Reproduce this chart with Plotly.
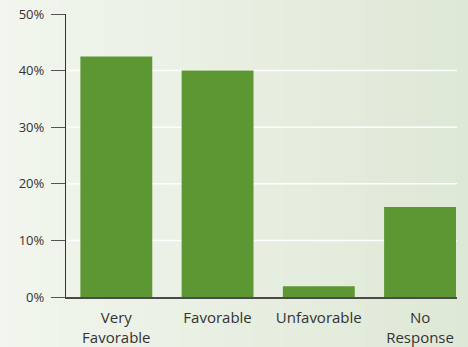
import plotly.graph_objects as go

# Survey responses (percent of respondents)
categories = ["Very<br>Favorable", "Favorable", "Unfavorable", "No<br>Response"]
shares = [42.5, 40.0, 1.9, 15.9]
y_ticks = [0, 10, 20, 30, 40, 50]
y_tick_text = ["0%", "10%", "20%", "30%", "40%", "50%"]
grid_levels = [10, 20, 30, 40]

BAR_GREEN = "#5c9733"
FONT = "Open Sans"

fig = go.Figure(
    go.Bar(
        x=list(range(len(categories))),
        y=shares,
        width=0.71,
        marker=dict(color=BAR_GREEN, line=dict(width=0)),
        hoverinfo="skip",
    )
)

# soft left-to-right background wash
left = (242, 246, 239)
right = (222, 232, 213)
n_strips = 48
shapes = []
x_start, x_end = -0.2, 1.05
for i in range(n_strips):
    t = i / (n_strips - 1)
    r, g, b = (round(left[k] + (right[k] - left[k]) * t) for k in range(3))
    x0 = x_start + (x_end - x_start) * i / n_strips
    x1 = x_start + (x_end - x_start) * (i + 1) / n_strips + 0.002
    shapes.append(dict(type="rect", xref="paper", yref="paper",
                       x0=x0, x1=x1, y0=-0.25, y1=1.08,
                       fillcolor=f"rgb({r},{g},{b})", line=dict(width=0),
                       layer="below"))

# white horizontal gridlines
for lvl in grid_levels:
    shapes.append(dict(type="line", xref="paper", yref="y",
                       x0=0, x1=1, y0=lvl, y1=lvl,
                       line=dict(color="white", width=1.5), layer="below"))

fig.update_layout(
    width=468, height=347,
    autosize=False,
    margin=dict(l=66, r=11, t=14, b=50, pad=0, autoexpand=False),
    paper_bgcolor="rgb(232,239,226)",
    plot_bgcolor="rgba(0,0,0,0)",
    showlegend=False,
    shapes=shapes,
    font=dict(family=FONT, color="#333333"),
    xaxis=dict(
        range=[-0.497, 3.365],
        tickmode="array",
        tickvals=list(range(len(categories))),
        ticktext=categories,
        tickfont=dict(size=15, family=FONT, color="#333333"),
        showgrid=False, zeroline=False,
        showline=True, linecolor="#4a4a4a", linewidth=2,
        ticks="", ticklabelstandoff=6,
        automargin=False,
        fixedrange=True,
    ),
    yaxis=dict(
        range=[0, 50],
        tickmode="array",
        tickvals=y_ticks,
        ticktext=y_tick_text,
        tickfont=dict(size=13, family=FONT, color="#333333"),
        showgrid=False, zeroline=False,
        showline=True, linecolor="#333333", linewidth=1.3,
        ticks="outside", ticklen=14, tickcolor="#555555", tickwidth=1.3,
        ticklabelstandoff=4,
        automargin=False,
        fixedrange=True,
    ),
)

fig.write_html("out.html", config={"displayModeBar": False})
